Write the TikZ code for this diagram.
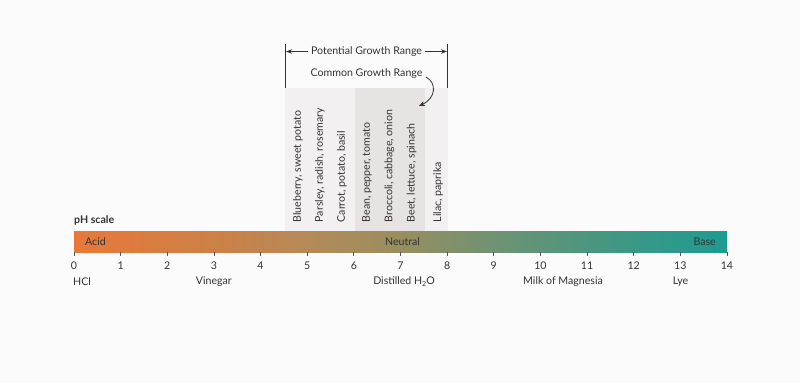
\documentclass[tikz,border=0pt]{standalone}
\usepackage{fontspec}
\setmainfont{Lato}
\usetikzlibrary{arrows.meta}
\definecolor{bgc}{HTML}{FBFBFB}
\definecolor{txt}{HTML}{333333}
\definecolor{colA}{HTML}{F2F0F0}
\definecolor{colB}{HTML}{E7E3E2}
\definecolor{tick}{HTML}{555555}
\definecolor{p0}{RGB}{233,120,56}
\definecolor{p3}{RGB}{205,128,70}
\definecolor{p5}{RGB}{180,138,88}
\definecolor{p7}{RGB}{152,142,96}
\definecolor{p9}{RGB}{112,146,114}
\definecolor{p12}{RGB}{58,152,134}
\definecolor{p14}{RGB}{28,156,145}
\pgfdeclarehorizontalshading{phshade}{100bp}{
  color(0bp)=(p0); color(25bp)=(p0); color(35.5bp)=(p3); color(43bp)=(p5); color(50bp)=(p7);
  color(57bp)=(p9); color(68bp)=(p12); color(75bp)=(p14); color(100bp)=(p14)}
\tikzset{
  lbl/.style={font=\fontsize{10.6}{12}\selectfont, text=txt, inner sep=0pt},
  veg/.style={lbl, rotate=90, anchor=west},
  num/.style={lbl, anchor=center},
  tk/.style={draw=tick, line width=0.8pt},
  dim/.style={draw=txt, line width=0.9pt},
}
\begin{document}
\begin{tikzpicture}[x=1pt,y=-1pt]
\useasboundingbox[fill=bgc] (0,0) rectangle (800,383);
% growth range backgrounds
\fill[colA] (285,88) rectangle (355,231);
\fill[colB] (355,88) rectangle (425,231);
\fill[colA] (425,88) rectangle (448,231);
% bar
\shade[shading=phshade] (74,231) rectangle (727,252);
\node[lbl, anchor=west] (acid) at (85,241.5) {Acid};
\node[lbl] (neutral) at (402.5,241.5) {Neutral};
\node[lbl, anchor=east] (base) at (716,241.5) {Base};
\node[lbl, anchor=west, font=\fontsize{10.6}{12}\selectfont\bfseries] (phs) at (74,220) {pH scale};
% ticks and numbers
\foreach \i in {0,...,14} {
  \coordinate (t\i) at ({74+46.64*\i},252);
  \coordinate (b\i) at ({74+46.64*\i},256);
  \draw[tk] (t\i) -- (b\i);
  \node[num] (n\i) at ({74+46.64*\i},265.5) {\i};
}
\node[lbl, anchor=west] (hcl) at (73,282) {HCl};
\node[lbl] (vin) at (213.9,282) {Vinegar};
\node[lbl] (dist) at (404,282) {Distilled H\raisebox{-0.35ex}{\fontsize{7}{8}\selectfont 2}O};
\node[lbl] (milk) at (563,282) {Milk of Magnesia};
\node[lbl] (lye) at (680.5,282) {Lye};
% vegetables
\node[veg] (v1) at (298,222.5) {Blueberry, sweet potato};
\node[veg] (v2) at (320,222.5) {Parsley, radish, rosemary};
\node[veg] (v3) at (342,222.5) {Carrot, potato, basil};
\node[veg] (v4) at (367,222.5) {Bean, pepper, tomato};
\node[veg] (v5) at (389.5,222.5) {Broccoli, cabbage, onion};
\node[veg] (v6) at (411.5,222.5) {Beet, lettuce, spinach};
\node[veg] (v7) at (438,222.5) {Lilac, paprika};
% potential growth range
\coordinate (la) at (285.5,44);
\coordinate (lb) at (285.5,88);
\coordinate (ra) at (447.5,44);
\coordinate (rb) at (447.5,88);
\draw[dim] (la) -- (lb);
\draw[dim] (ra) -- (rb);
\node[lbl, fill=bgc, inner xsep=3pt] (pot) at (366.5,51.5) {Potential Growth Range};
\coordinate (pl) at (286,51.5);
\coordinate (pr) at (447,51.5);
\draw[dim, -{Stealth[length=6pt,width=4.5pt]}] (pot.west) -- (pl);
\draw[dim, -{Stealth[length=6pt,width=4.5pt]}] (pot.east) -- (pr);
% common growth range
\node[lbl] (com) at (366.5,74) {Common Growth Range};
\coordinate (cs) at (426,77);
\coordinate (ce) at (419,106);
\draw[draw=txt, line width=0.8pt, -{Stealth[length=6pt,width=5pt]}] (cs) .. controls (437,83) and (436,98) .. (ce);
\end{tikzpicture}
\end{document}
